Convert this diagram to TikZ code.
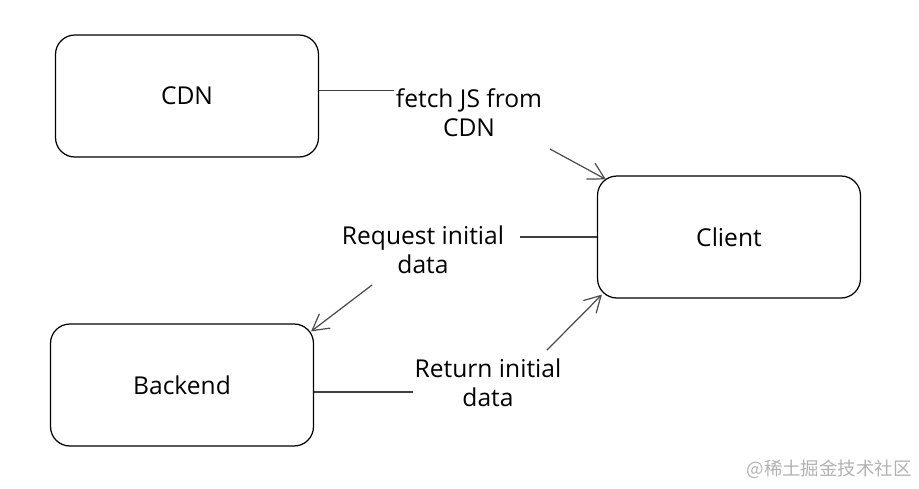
\documentclass[tikz,border=0pt]{standalone}
\usepackage{fontspec}
\setmainfont{Open Sans}
\newfontfamily\cjk{Noto Sans CJK SC}
\usepackage{tikz}
\usetikzlibrary{arrows.meta, positioning, calc}

\begin{document}
\begin{tikzpicture}[
    x=0.02cm, y=-0.02cm,
    font=\fontsize{14}{16.5}\selectfont,
    >={Straight Barb[length=3.2mm,width=3.6mm]},
    % Styles
    box/.style={
      draw=black,
      line width=0.7pt,
      rounded corners=11pt,
      align=center,
      minimum width=5.26cm,
      minimum height=2.44cm,
      inner sep=0pt
    },
    label/.style={
      align=center,
      inner sep=1pt
    },
    link/.style={
      draw=black!75,
      line width=0.7pt
    },
    arrow/.style={
      ->,
      draw=black!70,
      line width=0.7pt
    },
    watermark/.style={
      font=\cjk\fontsize{10.5}{12}\selectfont,
      text=black!30,
      inner sep=0pt
    }
  ]

    \useasboundingbox (0,0) rectangle (919,488);

    % Boxes
    \node (cdn) [box] at (187,96) {CDN};
    \node (client) [box] at (729,237) {Client};
    \node (backend) [box] at (182,385) {Backend};

    % Labels
    \node (fetchlbl) [label] at (469,113) {fetch JS from\\CDN};
    \node (reqlbl) [label] at (423,250) {Request initial\\data};
    \node (retlbl) [label] at (488,383) {Return initial\\data};

    % Arrow tails
    \coordinate (fetchtail) at (550,149);
    \coordinate (reqtail) at (372,285);
    \coordinate (rettail) at (547,350);

    % Connections
    \draw [link] ([yshift=3pt]cdn.east) -- ([yshift=3pt]fetchlbl.west |- cdn.east);
    \draw [arrow] (fetchtail) -- ([shift={(9,4)}]client.north west);

    \draw [link] (client.west) -- ([xshift=8pt]reqlbl.east |- client.west);
    \draw [arrow] (reqtail) -- ([shift={(-3,8)}]backend.north east);

    \draw [link] ([yshift=-4pt]backend.east) -- ([yshift=-4pt]retlbl.west |- backend.east);
    \draw [arrow] (rettail) -- ([shift={(5,-4)}]client.south west);

    % Watermark
    \node (mark) [watermark, anchor=east] at (912,469) {@稀土掘金技术社区};

\end{tikzpicture}
\end{document}
